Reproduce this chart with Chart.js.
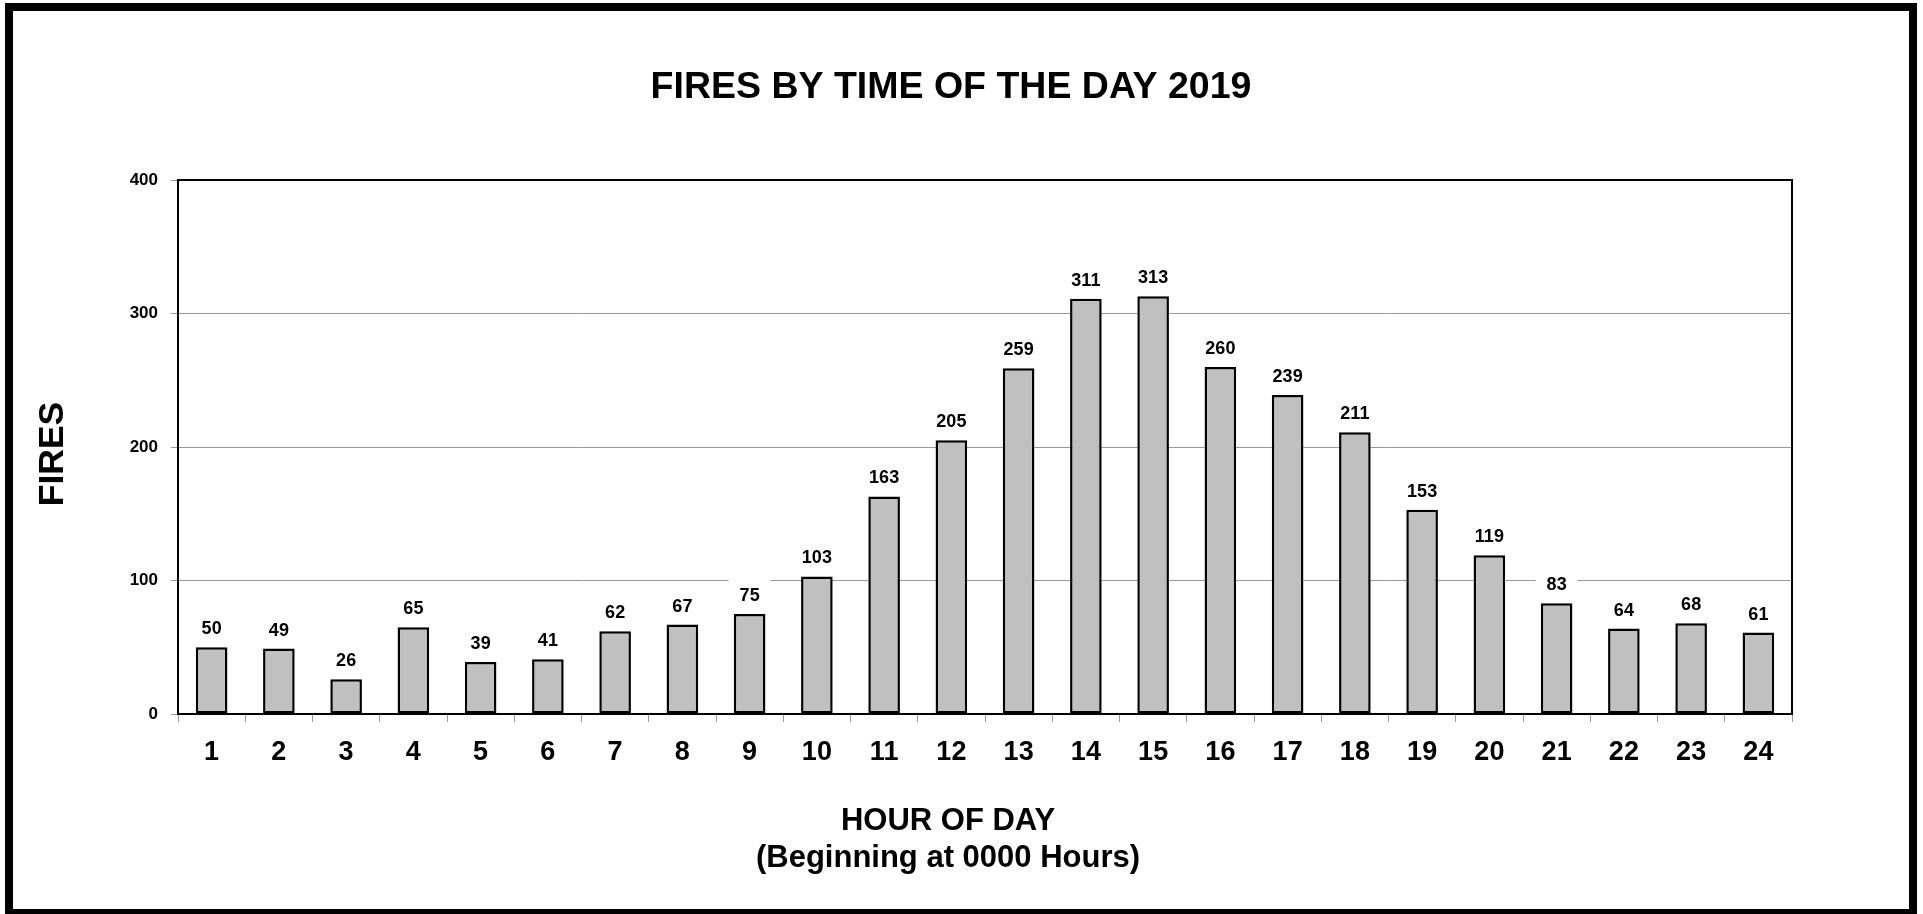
<!DOCTYPE html>
<html>
<head>
<meta charset="utf-8">
<script src="https://cdn.jsdelivr.net/npm/chart.js@4"></script>
<style>
  html, body { margin: 0; padding: 0; background: #fff; }
  canvas { display: block; }
</style>
</head>
<body>
<canvas id="c" width="1923" height="914"></canvas>
<script>
const hours = ['1','2','3','4','5','6','7','8','9','10','11','12','13','14','15','16','17','18','19','20','21','22','23','24'];
const fires = [50, 49, 26, 65, 39, 41, 62, 67, 75, 103, 163, 205, 259, 311, 313, 260, 239, 211, 153, 119, 83, 64, 68, 61];
const yMin = 0, yMax = 400, yStep = 100;
const chartTitle = 'FIRES BY TIME OF THE DAY 2019';
const yTitle = 'FIRES';
const xTitle = ['HOUR OF DAY', '(Beginning at 0000 Hours)'];

const FONT = '"Liberation Sans", Arial, Helvetica, sans-serif';

const decor = {
  id: 'decor',
  beforeDraw(chart) {
    const ctx = chart.ctx;
    ctx.save();
    ctx.fillStyle = '#fff';
    ctx.fillRect(0, 0, chart.width, chart.height);
    ctx.restore();
  },
  afterDatasetsDraw(chart) {
    const ctx = chart.ctx;
    const a = chart.chartArea;
    const meta = chart.getDatasetMeta(0);
    ctx.save();
    meta.data.forEach((bar) => {
      const cy = bar.y - 18;
      ctx.fillStyle = '#fff';
      ctx.fillRect(bar.x - 21, cy - 16.5, 42, 33);
    });
    ctx.strokeStyle = '#000';
    ctx.lineWidth = 2;
    ctx.strokeRect(a.left, a.top, a.right - a.left, a.bottom - a.top);
    ctx.fillStyle = '#000';
    ctx.font = 'bold 18px ' + FONT;
    ctx.textAlign = 'center';
    ctx.textBaseline = 'middle';
    meta.data.forEach((bar, i) => {
      ctx.fillText(String(fires[i]), bar.x, bar.y - 18);
    });
    ctx.restore();
  },
  afterDraw(chart) {
    const ctx = chart.ctx;
    ctx.save();
    ctx.fillStyle = '#000';
    ctx.textAlign = 'center';
    ctx.textBaseline = 'middle';
    ctx.font = 'bold 37.5px ' + FONT;
    ctx.fillText(chartTitle, 951, 88);
    ctx.font = 'bold 31px ' + FONT;
    ctx.fillText(xTitle[0], 948, 821);
    ctx.fillText(xTitle[1], 948, 858);
    ctx.save();
    ctx.translate(53, 454);
    ctx.rotate(-Math.PI / 2);
    ctx.font = 'bold 35.5px ' + FONT;
    ctx.fillText(yTitle, 0, 0);
    ctx.restore();
    ctx.strokeStyle = '#000';
    ctx.lineWidth = 8;
    ctx.strokeRect(9, 7, 1904, 906);
    ctx.restore();
  }
};

new Chart(document.getElementById('c'), {
  type: 'bar',
  data: {
    labels: hours,
    datasets: [{
      data: fires,
      backgroundColor: '#c0c0c0',
      borderColor: '#000',
      borderWidth: 2.5,
      borderSkipped: false,
      barPercentage: 0.47,
      categoryPercentage: 1.0
    }]
  },
  options: {
    responsive: false,
    animation: false,
    layout: { padding: { top: 180, right: 131, bottom: 0, left: 0 } },
    plugins: {
      legend: { display: false },
      tooltip: { enabled: false },
      title: { display: false }
    },
    scales: {
      x: {
        afterFit(scale) { scale.height = 200; },
        border: { display: false },
        grid: {
          offset: true,
          drawOnChartArea: false,
          drawTicks: true,
          tickLength: 8,
          tickColor: '#999',
          color: '#999'
        },
        ticks: {
          color: '#000',
          padding: 14,
          font: { family: FONT, size: 27, weight: 'bold' },
          maxRotation: 0,
          autoSkip: false
        }
      },
      y: {
        min: yMin,
        max: yMax,
        afterFit(scale) { scale.width = 178; },
        border: { display: false },
        grid: {
          color: '#999',
          lineWidth: 1,
          drawTicks: true,
          tickLength: 7,
          tickColor: '#999'
        },
        ticks: {
          stepSize: yStep,
          color: '#000',
          padding: 13,
          font: { family: FONT, size: 17, weight: 'bold' }
        },
        title: { display: false }
      }
    }
  },
  plugins: [decor]
});
</script>
</body>
</html>
